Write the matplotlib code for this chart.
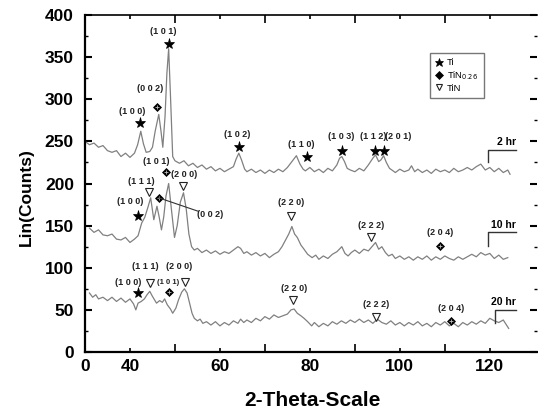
import numpy as np
import matplotlib.pyplot as plt
from matplotlib.lines import Line2D

plt.rcParams['font.family'] = ['Liberation Sans', 'DejaVu Sans']

# 2 hr pattern (2-theta, counts)
x2 = [30, 31, 32, 33, 34, 35, 36, 37, 38, 39, 40, 41, 41.7, 42.4, 43, 43.6, 44.4, 45, 45.6, 46.4,
      46.9, 47.3, 47.8, 48.2, 48.6, 49.0, 49.5, 50, 51, 52, 53, 54, 55, 56, 57, 58, 59, 60, 61, 62,
      63, 63.6, 64.2, 64.8, 65.5, 66, 67, 68, 69, 70, 71, 72, 73, 74, 75, 76, 77, 77.8, 78.5, 79,
      80, 81, 82, 83, 84, 85, 86, 86.6, 87.1, 87.7, 88.3, 89, 90, 91, 92, 93, 94, 94.6, 95.3, 95.8,
      96.4, 97, 97.7, 98.5, 99, 100, 101, 102, 102.6, 103.3, 104, 105, 106, 107, 108, 109, 110, 111,
      112, 113, 114, 115, 116, 117, 118, 119, 120, 121, 122, 123, 124, 124.5]
y2 = [250, 246, 248, 243, 245, 239, 237, 239, 232, 236, 231, 236, 246, 262, 247, 237, 238, 243, 262, 282,
      262, 243, 280, 330, 360, 305, 232, 227, 224, 227, 221, 224, 219, 222, 217, 220, 215, 218, 214, 217,
      220, 229, 236, 228, 217, 214, 217, 213, 216, 212, 216, 213, 217, 214, 219, 226, 233, 223, 217, 215,
      219, 214, 217, 213, 218, 215, 222, 230, 232, 226, 218, 216, 214, 218, 215, 222, 230, 234, 226, 228,
      233, 225, 218, 215, 213, 217, 214, 216, 221, 214, 217, 213, 216, 212, 217, 214, 216, 213,
      218, 214, 216, 219, 216, 220, 223, 216, 219, 214, 218, 213, 216, 211]

# 10 hr pattern
x10 = [31, 32, 33, 34, 35, 36, 37, 38, 39, 40, 41, 41.8, 42.6, 43.3, 44, 44.6, 45.3, 46, 46.5, 47,
       47.5, 48, 48.6, 49.2, 49.9, 50.5, 51.2, 51.9, 52.5, 53.1, 53.7, 54.3, 55, 56, 57, 58, 59, 60, 61, 62,
       63, 64, 64.6, 65.3, 66, 67, 68, 69, 70, 71, 72, 73, 73.8, 74.6, 75.3, 76, 76.6, 77.2, 78, 78.7,
       79.5, 80.5, 81.3, 82, 83, 84, 85, 86, 87.1, 87.8, 88.5, 89.2, 90, 91, 92, 93, 93.8, 94.6, 95.3, 96,
       96.8, 97.5, 98.3, 99, 100, 101, 102, 103, 104, 105, 106, 107, 108, 109, 110, 111, 112, 113, 114, 115,
       116, 117, 118, 119, 120, 121, 122, 123, 124]
y10 = [147, 142, 145, 139, 138, 140, 134, 133, 136, 130, 134, 138, 153, 160, 172, 183, 157, 173, 160, 145,
       160, 185, 200, 170, 136, 150, 178, 189, 170, 140, 125, 121, 123, 118, 121, 117, 120, 116, 119, 117,
       121, 125, 123, 117, 119, 115, 118, 114, 117, 112, 116, 119, 125, 133, 140, 149, 140, 136, 127, 122,
       116, 112, 115, 110, 114, 111, 116, 119, 125, 117, 114, 118, 121, 117, 122, 120, 125, 130, 122, 125,
       118, 114, 116, 111, 114, 110, 113, 109, 113, 110, 114, 109, 113, 110, 114, 111, 109, 113, 110, 113,
       116, 113, 118, 115, 117, 111, 115, 110, 112]

# 20 hr pattern
x20 = [31, 31.7, 32.4, 33, 34, 35, 36, 37, 38, 39, 40, 40.8, 41.3, 41.8, 42.5, 43.2, 43.8, 44.4, 45, 45.9,
       46.6, 47.2, 47.7, 48.3, 49, 49.5, 50.2, 50.8, 51.5, 52.1, 52.7, 53.3, 53.8, 54.3, 55, 55.6, 56.2, 57, 58, 59,
       60, 61, 62, 63, 64, 64.6, 65.3, 66, 67, 68, 69, 70, 71, 72, 73, 74, 75, 75.8, 76.5, 77.2,
       78, 78.7, 79.5, 80.4, 81, 82, 83, 84, 85, 86, 87, 88, 89, 90, 91, 92, 93, 94, 95, 96,
       97, 98, 99, 100, 101, 102, 103, 104, 105, 106, 107, 108, 109, 110, 111, 112, 113, 114, 115, 116,
       117, 118, 119, 120, 121, 122, 123, 123.6, 124.2]
y20 = [70, 65, 68, 63, 65, 61, 65, 60, 64, 59, 63, 57, 50, 58, 60, 63, 68, 72, 66, 58,
       61, 59, 63, 56, 51, 46, 52, 62, 71, 75, 70, 57, 46, 40, 37, 39, 34, 36, 32, 36,
       31, 35, 32, 37, 34, 39, 35, 38, 35, 40, 37, 42, 39, 44, 41, 43, 45, 50, 51, 46,
       43, 40, 36, 31, 35, 30, 34, 31, 36, 33, 37, 34, 38, 35, 39, 35, 38, 34, 39, 35,
       33, 37, 32, 35, 31, 35, 32, 36, 31, 34, 30, 35, 32, 36, 31, 34, 30, 35, 32, 36,
       33, 37, 34, 40, 37, 35, 38, 33, 28]

# peak markers: (2-theta, counts, phase)
mark_x = [42.2, 45.9, 48.6, 64.3, 79.3, 87.1, 94.4, 96.4,
          41.8, 44.2, 47.9, 46.4, 51.7, 75.8, 93.7, 109.0,
          41.8, 44.4, 48.6, 52.3, 76.2, 94.8, 111.4]
mark_y = [272, 291, 365, 243, 232, 239, 239, 239,
          162, 190, 214, 183, 197, 161, 137, 126,
          70, 82, 71, 83, 62, 42, 37]
mark_phase = ['Ti', 'TiN026', 'Ti', 'Ti', 'Ti', 'Ti', 'Ti', 'Ti',
              'Ti', 'TiN', 'TiN026', 'TiN026', 'TiN', 'TiN', 'TiN', 'TiN026',
              'Ti', 'TiN', 'TiN026', 'TiN', 'TiN', 'TiN', 'TiN026']

# hkl labels and where they sit
hkl = ['(1 0 0)', '(0 0 2)', '(1 0 1)', '(1 0 2)', '(1 1 0)', '(1 0 3)', '(1 1 2)', '(2 0 1)',
       '(1 0 0)', '(1 1 1)', '(1 0 1)', '(0 0 2)', '(2 0 0)', '(2 2 0)', '(2 2 2)', '(2 0 4)',
       '(1 0 0)', '(1 1 1)', '(1 0 1)', '(2 0 0)', '(2 2 0)', '(2 2 2)', '(2 0 4)']
hkl_x = [40.6, 44.4, 47.3, 63.9, 78.0, 86.9, 94.2, 99.7,
         40.0, 42.6, 45.9, 57.8, 52.1, 75.8, 93.7, 109.0,
         39.5, 43.3, 48.4, 51.0, 76.5, 94.8, 111.4]
hkl_y = [285, 313, 380, 258, 246, 256, 256, 256,
         179, 202, 226, 163, 211, 177, 150, 142,
         82, 101, 83, 101, 75, 56, 52]

hr_labels = ['2 hr', '10 hr', '20 hr']
hr_x = [119.6, 119.6, 121.2]
hr_top = [240, 142, 50]
hr_bot = [226, 126, 35]
hr_end = 125.8

fig = plt.figure(figsize=(5.38, 4.13), dpi=100)
ax = fig.add_axes([85 / 538, 61 / 413, 452 / 538, 337 / 413])

line_kw = dict(color='#808080', lw=0.9)
ax.plot(x2, y2, **line_kw)
ax.plot(x10, y10, **line_kw)
ax.plot(x20, y20, **line_kw)

style = {'Ti': dict(marker='*', ms=8, mfc='black', mec='black', mew=0.5),
         'TiN026': dict(marker='D', ms=4.5, mfc='black', mec='black', mew=0.5),
         'TiN': dict(marker='v', ms=6, mfc='white', mec='#222222', mew=0.8)}
for x, y, p in zip(mark_x, mark_y, mark_phase):
    ax.plot(x, y, ls='none', **style[p])
    if p == 'TiN026':
        ax.plot(x, y, marker='+', ms=3.5, mec='#bbbbbb', mew=0.6, ls='none')

for t, x, y in zip(hkl, hkl_x, hkl_y):
    fs = 5.5 if (t == '(1 0 1)' and y < 100) else 6.5
    ax.text(x, y, t, ha='center', va='center', fontsize=fs, fontweight='bold', color='#222222')

# leader line for (002) in 10 hr
ax.plot([46.4, 55.2], [183, 167], color='#333333', lw=0.8)

for lab, x, t, b in zip(hr_labels, hr_x, hr_top, hr_bot):
    ax.plot([x, x, hr_end], [b, t, t], color='#333333', lw=1.0)
    ax.text(hr_end, t + 3, lab, ha='right', va='bottom', fontsize=7.5, fontweight='bold')

handles = [Line2D([], [], ls='none', **style['Ti']),
           Line2D([], [], ls='none', **style['TiN026']),
           Line2D([], [], ls='none', **style['TiN'])]
leg = ax.legend(handles, ['Ti', 'TiN$_{0.26}$', 'TiN'], loc='upper left',
                bbox_to_anchor=(0.763, 0.888), fontsize=6.8, frameon=True, fancybox=False,
                handlelength=0.8, handletextpad=0.4, labelspacing=0.2, borderpad=0.6,
                borderaxespad=0, markerscale=0.8)
leg.get_frame().set_edgecolor('#555555')
leg.get_frame().set_linewidth(1.0)

ax.set_xlim(30, 130.5)
ax.set_ylim(0, 400)
ax.set_xticks([30, 40, 60, 80, 100, 120])
ax.set_xticklabels(['0', '40', '60', '80', '100', '120'])
ax.set_xticks([50, 70, 90, 110], minor=True)
ax.set_yticks(np.arange(0, 401, 50))
ax.set_yticks(np.arange(25, 400, 50), minor=True)
ax.tick_params(axis='x', which='major', direction='in', length=3, width=1.2, top=True,
               labelsize=12.5, pad=5)
ax.tick_params(axis='x', which='minor', direction='in', length=6, width=1.2, top=True)
ax.tick_params(axis='y', which='major', direction='in', length=5, width=1.5, right=True,
               labelsize=12.5, pad=8)
ax.tick_params(axis='y', which='minor', direction='in', length=2.5, width=1.0, right=True)
for lbl in ax.get_xticklabels() + ax.get_yticklabels():
    lbl.set_fontweight('bold')

for s in ['left', 'bottom']:
    ax.spines[s].set_linewidth(1.6)
ax.spines['top'].set_linewidth(1.2)
ax.spines['right'].set_visible(False)

fig.text(26 / 538, 1 - 197 / 413, 'Lin(Counts)', rotation=90, ha='center', va='center',
         fontsize=12.5, fontweight='bold')
fig.text(312 / 538, 1 - 401 / 413, '2-Theta-Scale', ha='center', va='center',
         fontsize=15, fontweight='bold')

fig.savefig('out.png', dpi=100)
